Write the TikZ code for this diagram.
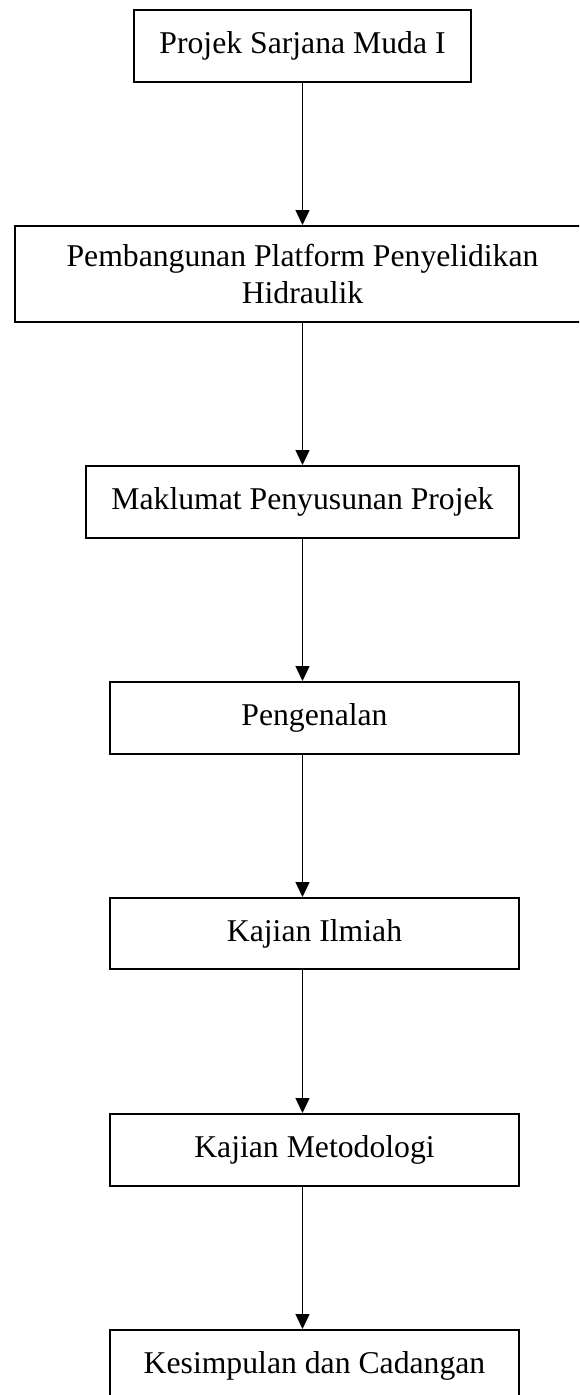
\documentclass[tikz,border=0pt]{standalone}
\usepackage{fontspec}
\setmainfont{Liberation Serif}
\usepackage{xcolor}
\usepackage{tikz}
\usetikzlibrary{arrows.meta}
\definecolor{ink}{HTML}{000000}
\tikzset{
  stage/.style={draw=ink, line width=2pt, minimum height=72pt, inner sep=0pt,
    align=center, font=\fontsize{31.7}{37}\selectfont},
  flow/.style={draw=ink, line width=1.4pt, -{Triangle[width=14pt,length=15pt]}},
  every node/.style={text=ink}
}
\begin{document}
\begin{tikzpicture}[x=1pt,y=-1pt]
  \clip (0,0) rectangle (579,1395);

  \node[stage, minimum width=337pt] (b1) at (302.5,46) {Projek Sarjana Muda I};
  \node[stage, minimum width=576pt, minimum height=96pt] (b2) at (302.5,274)
    {Pembangunan Platform Penyelidikan\\Hidraulik};
  \node[stage, minimum width=433pt] (b3) at (302.5,502) {Maklumat Penyusunan Projek};
  \node[stage, minimum width=409pt] (b4) at (314.5,718) {Pengenalan};
  \node[stage, minimum width=409pt, minimum height=71pt] (b5) at (314.5,933.5) {Kajian Ilmiah};
  \node[stage, minimum width=409pt] (b6) at (314.5,1150) {Kajian Metodologi};
  \node[stage, minimum width=409pt] (b7) at (314.5,1366) {Kesimpulan dan Cadangan};

  % arrows run down the middle line of the top boxes
  \foreach \a/\b in {b1/b2,b2/b3,b3/b4,b4/b5,b5/b6,b6/b7}
    \draw[flow] (b1.south |- \a.south) -- (b1.south |- \b.north);
\end{tikzpicture}
\end{document}
